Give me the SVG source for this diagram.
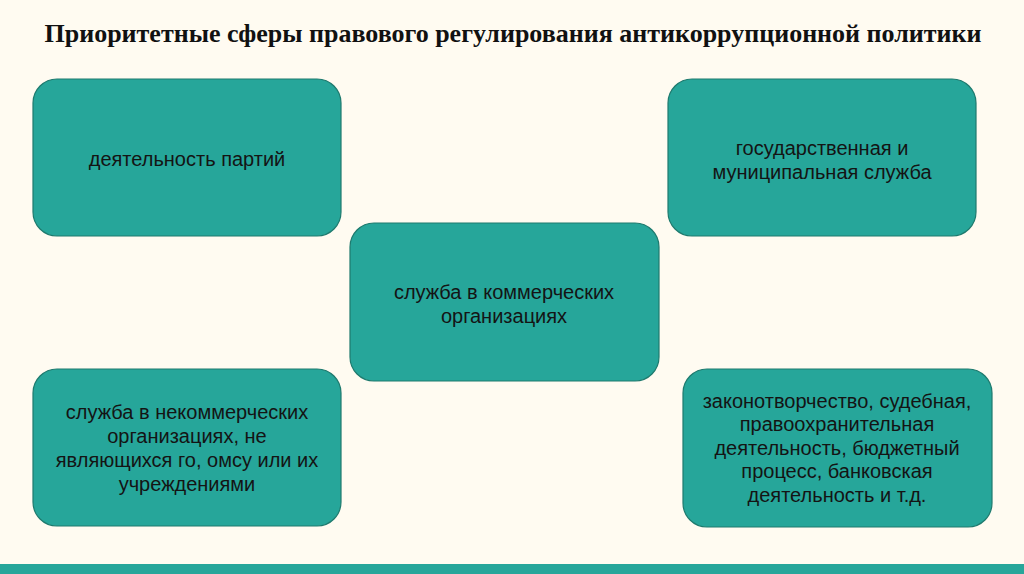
<svg xmlns="http://www.w3.org/2000/svg" width="1024" height="574" viewBox="0 0 1024 574">
<style>
.box{fill:#26a69a;stroke:#1e7a6e;stroke-width:1.2}
.t{font-family:"Liberation Sans",Arial,sans-serif;font-size:20px;fill:#141414;text-anchor:middle}
.title{font-family:"Liberation Serif","Times New Roman",serif;font-weight:bold;font-size:26px;fill:#111;text-anchor:middle}
</style>
<rect x="0" y="0" width="1024" height="574" fill="#fffbf1"/>
<rect x="0" y="564" width="1024" height="10" fill="#27a69a"/>
<text class="title" x="513" y="42" textLength="937" lengthAdjust="spacingAndGlyphs">Приоритетные сферы правового регулирования антикоррупционной политики</text>
<g id="connectors"></g>
<g id="n1">
<rect class="box" x="33" y="79" width="308" height="157" rx="24"/>
<text class="t" x="187" y="166">деятельность партий</text>
</g>
<g id="n2">
<rect class="box" x="668" y="79" width="308" height="157" rx="24"/>
<text class="t" x="822" y="155">государственная и</text>
<text class="t" x="822" y="179">муниципальная служба</text>
</g>
<g id="n3">
<rect class="box" x="350" y="223" width="309" height="158" rx="24"/>
<text class="t" x="504" y="299">служба в коммерческих</text>
<text class="t" x="504" y="323">организациях</text>
</g>
<g id="n4">
<rect class="box" x="33" y="369" width="308" height="157" rx="24"/>
<text class="t" x="187" y="419">служба в некоммерческих</text>
<text class="t" x="187" y="443">организациях, не</text>
<text class="t" x="187" y="467">являющихся го, омсу или их</text>
<text class="t" x="187" y="491">учреждениями</text>
</g>
<g id="n5">
<rect class="box" x="683" y="369" width="309" height="158" rx="24"/>
<text class="t" x="837" y="408">законотворчество, судебная,</text>
<text class="t" x="837" y="431">правоохранительная</text>
<text class="t" x="837" y="455">деятельность, бюджетный</text>
<text class="t" x="837" y="478">процесс, банковская</text>
<text class="t" x="837" y="502">деятельность и т.д.</text>
</g>
</svg>
